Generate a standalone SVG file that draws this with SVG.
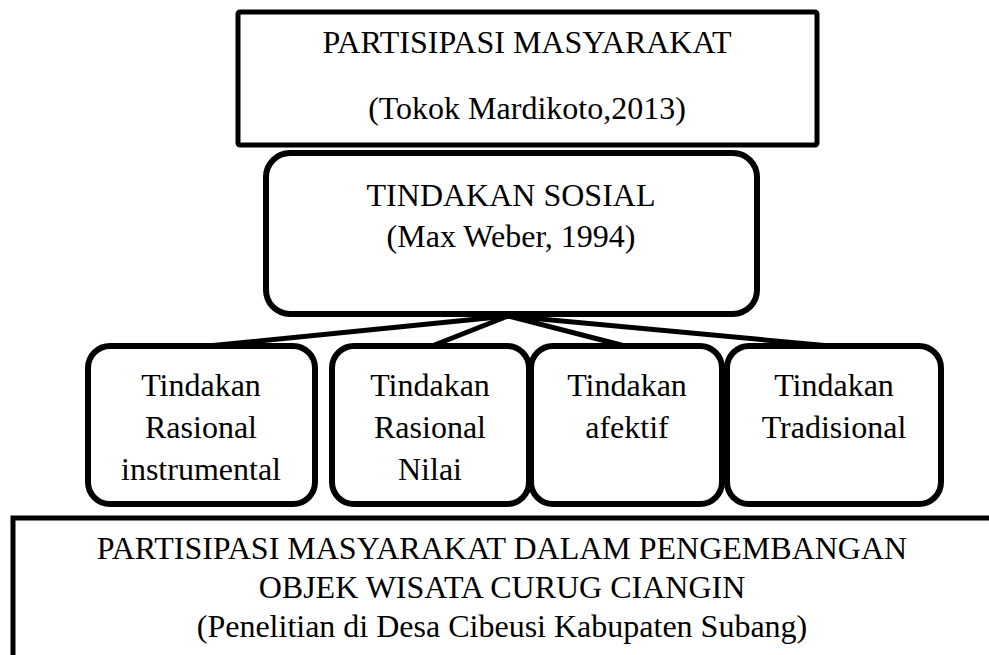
<svg xmlns="http://www.w3.org/2000/svg" width="989" height="655" viewBox="0 0 989 655">
  <style>
    .bg { fill: #ffffff; }
    .box { fill: #ffffff; stroke: #000000; stroke-width: 5; }
    .rbox { fill: #ffffff; stroke: #000000; stroke-width: 6; }
    .conn { fill: none; stroke: #000000; stroke-width: 5; stroke-linecap: round; }
    text { font-family: "Liberation Serif", "Times New Roman", serif; font-size: 32px; fill: #000000; text-anchor: middle; }
  </style>
  <rect class="bg" x="0" y="0" width="989" height="655"/>

  <g id="connectors">
    <line class="conn" x1="508" y1="316" x2="208" y2="346"/>
    <line class="conn" x1="508" y1="316" x2="432" y2="346"/>
    <line class="conn" x1="508" y1="316" x2="625" y2="346"/>
    <line class="conn" x1="508" y1="316" x2="830" y2="346"/>
  </g>

  <g id="node-partisipasi">
    <rect class="box" x="238" y="12" width="579" height="133" rx="2"/>
    <text x="527" y="53">PARTISIPASI MASYARAKAT</text>
    <text x="527" y="119">(Tokok Mardikoto,2013)</text>
  </g>

  <g id="node-tindakan-sosial">
    <rect class="rbox" x="266" y="153" width="491" height="161" rx="24"/>
    <text x="511" y="206">TINDAKAN SOSIAL</text>
    <text x="511" y="247">(Max Weber, 1994)</text>
  </g>

  <g id="node-rasional-instrumental">
    <rect class="rbox" x="88" y="346" width="227" height="158" rx="22"/>
    <text x="201" y="396">Tindakan</text>
    <text x="201" y="438">Rasional</text>
    <text x="201" y="480">instrumental</text>
  </g>

  <g id="node-rasional-nilai">
    <rect class="rbox" x="332" y="346" width="197" height="158" rx="22"/>
    <text x="430" y="396">Tindakan</text>
    <text x="430" y="438">Rasional</text>
    <text x="430" y="480">Nilai</text>
  </g>

  <g id="node-afektif">
    <rect class="rbox" x="531" y="346" width="191" height="158" rx="22"/>
    <text x="627" y="396">Tindakan</text>
    <text x="627" y="438">afektif</text>
  </g>

  <g id="node-tradisional">
    <rect class="rbox" x="727" y="346" width="214" height="158" rx="22"/>
    <text x="834" y="396">Tindakan</text>
    <text x="834" y="438">Tradisional</text>
  </g>

  <g id="node-partisipasi-pengembangan">
    <rect class="box" x="13" y="518" width="990" height="200"/>
    <text x="502" y="559">PARTISIPASI MASYARAKAT DALAM PENGEMBANGAN</text>
    <text x="502" y="598">OBJEK WISATA CURUG CIANGIN</text>
    <text x="502" y="637">(Penelitian di Desa Cibeusi Kabupaten Subang)</text>
  </g>
</svg>
